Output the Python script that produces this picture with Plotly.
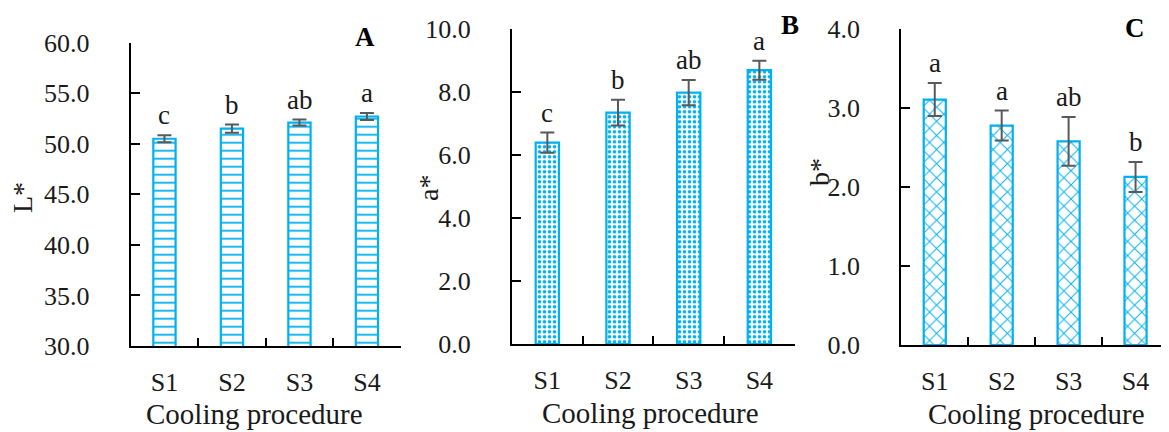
import plotly.graph_objects as go

# ---------------- data ----------------
categories = ["S1", "S2", "S3", "S4"]

L_values = [50.5, 51.5, 52.1, 52.7]
L_errors = [0.35, 0.40, 0.30, 0.35]
L_letters = ["c", "b", "ab", "a"]

a_values = [6.40, 7.35, 7.99, 8.70]
a_errors = [0.32, 0.41, 0.40, 0.30]
a_letters = ["c", "b", "ab", "a"]

b_values = [3.11, 2.78, 2.58, 2.13]
b_errors = [0.21, 0.19, 0.31, 0.19]
b_letters = ["a", "a", "ab", "b"]

y_titles = ["L*", "a*", "b*"]
panel_labels = ["A", "B", "C"]
x_title = "Cooling procedure"

# ---------------- styling ----------------
W, H = 1169, 432
OFF = 8  # page body margin
BLUE = "#00B0F0"
ERR = "#595959"
TXT = "#1a1a1a"
FONT = "Liberation Serif"

def px(x):
    return (x - OFF) / W

def py(y):
    return 1 - (y - OFF) / H

panels = [
    dict(vals=L_values, errs=L_errors, letters=L_letters, rng=[30, 60], dtick=5,
         xd=[130.7, 400.7], yd=[346, 42.7], shape="-", size=8, sol=0.22,
         ytitle_pos=(22, 198), xtitle_pos=(254, 414), lab_pos=(365, 37)),
    dict(vals=a_values, errs=a_errors, letters=a_letters, rng=[0, 10], dtick=2,
         xd=[512, 794.7], yd=[344, 29.3], shape=".", size=5, sol=0.42,
         ytitle_pos=(428, 188), xtitle_pos=(650, 413), lab_pos=(790, 25)),
    dict(vals=b_values, errs=b_errors, letters=b_letters, rng=[0, 4], dtick=1,
         xd=[901.3, 1169], yd=[345, 29.3], shape="x", size=10, sol=0.18,
         ytitle_pos=(819, 172), xtitle_pos=(1036, 414), lab_pos=(1135, 28)),
]

fig = go.Figure()
annotations = []
layout = {}

for i, p in enumerate(panels):
    sfx = "" if i == 0 else str(i + 1)
    xa, ya = "x" + sfx, "y" + sfx
    fig.add_trace(go.Bar(
        x=categories, y=p["vals"], xaxis=xa, yaxis=ya, width=0.33,
        marker=dict(color="white", line=dict(color=BLUE, width=2.2),
                    pattern=dict(shape=p["shape"], fgcolor=BLUE, bgcolor="white",
                                 size=p["size"], solidity=p["sol"], fillmode="replace")),
        error_y=dict(type="data", array=p["errs"], visible=True, color=ERR,
                     thickness=2, width=7),
        showlegend=False, hoverinfo="skip",
    ))
    layout["xaxis" + sfx] = dict(
        domain=[px(p["xd"][0]), min(1.0, px(p["xd"][1]))], anchor=ya, type="category",
        range=[-0.5, 3.5], showline=True, linecolor="black", linewidth=2,
        ticks="inside", tickson="boundaries", ticklen=8, tickwidth=2, tickcolor="black",
        ticklabelstandoff=12, showgrid=False, zeroline=False, automargin=False,
        tickfont=dict(family=FONT, size=26, color=TXT),
    )
    layout["yaxis" + sfx] = dict(
        domain=[py(p["yd"][0]), py(p["yd"][1])], anchor=xa, range=p["rng"],
        dtick=p["dtick"], tick0=p["rng"][0], tickformat=".1f", showline=True,
        linecolor="black", linewidth=2, ticks="inside", ticklen=9, tickwidth=2,
        tickcolor="black", ticklabelstandoff=34, showgrid=False, zeroline=False,
        automargin=False, tickfont=dict(family=FONT, size=26, color=TXT),
    )
    for c, v, e, t in zip(categories, p["vals"], p["errs"], p["letters"]):
        annotations.append(dict(x=c, y=v + e, xref=xa, yref=ya, text=t, showarrow=False,
                                yanchor="bottom", yshift=3,
                                font=dict(family=FONT, size=27, color=TXT)))
    annotations.append(dict(x=px(p["ytitle_pos"][0]), y=py(p["ytitle_pos"][1]), xref="paper",
                            yref="paper", text=y_titles[i], textangle=-90, showarrow=False,
                            xanchor="center", yanchor="middle",
                            font=dict(family=FONT, size=28, color=TXT)))
    annotations.append(dict(x=px(p["xtitle_pos"][0]), y=py(p["xtitle_pos"][1]), xref="paper",
                            yref="paper", text=x_title, showarrow=False,
                            xanchor="center", yanchor="middle",
                            font=dict(family=FONT, size=29, color=TXT)))
    annotations.append(dict(x=px(p["lab_pos"][0]), y=py(p["lab_pos"][1]), xref="paper",
                            yref="paper", text="<b>" + panel_labels[i] + "</b>", showarrow=False,
                            xanchor="center", yanchor="middle",
                            font=dict(family=FONT, size=27, color="black")))

fig.update_layout(
    width=W, height=H, margin=dict(l=0, r=0, t=0, b=0, autoexpand=False),
    paper_bgcolor="white", plot_bgcolor="white",
    annotations=annotations, bargap=0.67, **layout,
)

fig.write_html("out.html")
